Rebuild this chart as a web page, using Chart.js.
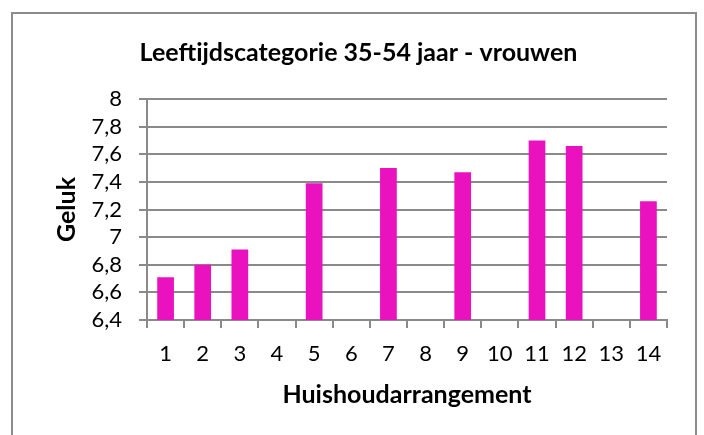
<!DOCTYPE html>
<html>
<head>
<meta charset="utf-8">
<script src="https://cdn.jsdelivr.net/npm/chart.js@4.4.1/dist/chart.umd.min.js"></script>
<style>
  body { margin: 0; background: #fff; }
  #wrap { position: relative; width: 704px; height: 435px; overflow: hidden; }
  #frame { position: absolute; left: 11px; top: 12px; width: 686px; height: 440px; border: 2px solid #8c8c8c; box-sizing: border-box; }
  canvas { position: absolute; left: 0; top: 0; }
</style>
</head>
<body>
<div id="wrap">
  <div id="frame"></div>
  <canvas id="canvas" width="704" height="435"></canvas>
</div>
<script>
const categories = ['1', '2', '3', '4', '5', '6', '7', '8', '9', '10', '11', '12', '13', '14'];
const geluk = [6.71, 6.80, 6.91, null, 7.39, null, 7.50, null, 7.47, null, 7.70, 7.66, null, 7.26];
const yTicks = [6.4, 6.6, 6.8, 7, 7.2, 7.4, 7.6, 7.8, 8];

const fmt = v => String(Math.round(v * 10) / 10).replace('.', ',');
const gridGrey = '#8a8a8a';
const font = 'Lato';

const ctx = document.getElementById('canvas').getContext('2d');
const data = {
    labels: categories,
    datasets: [{
        label: 'Geluk',
        data: geluk,
        backgroundColor: '#ea11bf',
        borderWidth: 0,
        categoryPercentage: 1,
        barPercentage: 0.45
    }]
};

new Chart(ctx, {
    type: 'bar',
    data,
    options: {
        responsive: false,
        animation: false,
        // left padding keeps the chart title centred in the frame like the original
        layout: { padding: { left: 50, right: 37, top: 0, bottom: 0 } },
        plugins: {
            legend: { display: false },
            tooltip: { enabled: false },
            title: {
                display: true,
                text: 'Leeftijdscategorie 35-54 jaar - vrouwen',
                color: '#000',
                font: { family: font, size: 25, weight: 'bold', lineHeight: 1.2 },
                padding: { top: 38, bottom: 31 }
            }
        },
        scales: {
            x: {
                afterFit: s => { s.height = 115; },
                grid: { drawOnChartArea: false, drawTicks: true, tickLength: 8, color: gridGrey, lineWidth: 2 },
                border: { display: true, color: gridGrey, width: 2 },
                ticks: { color: '#000', font: { family: font, size: 22 }, padding: 13, maxRotation: 0, autoSkip: false },
                title: {
                    display: true,
                    text: 'Huishoudarrangement',
                    color: '#000',
                    font: { family: font, size: 25, weight: 'bold', lineHeight: 1.2 },
                    padding: { top: 0, bottom: 25 }
                }
            },
            y: {
                min: 6.4,
                max: 8,
                afterFit: s => { s.width = 97; },
                afterBuildTicks: s => { s.ticks = yTicks.map(v => ({ value: v })); },
                grid: { drawTicks: true, tickLength: 8, color: gridGrey, lineWidth: 2 },
                border: { display: true, color: gridGrey, width: 2 },
                ticks: { color: '#000', font: { family: font, size: 22 }, padding: 17, autoSkip: false, callback: v => fmt(v) },
                title: {
                    display: true,
                    text: 'Geluk',
                    color: '#000',
                    font: { family: font, size: 25, weight: 'bold', lineHeight: 1.2 },
                    padding: { top: 2, bottom: 0 }
                }
            }
        }
    }
});
</script>
</body>
</html>
